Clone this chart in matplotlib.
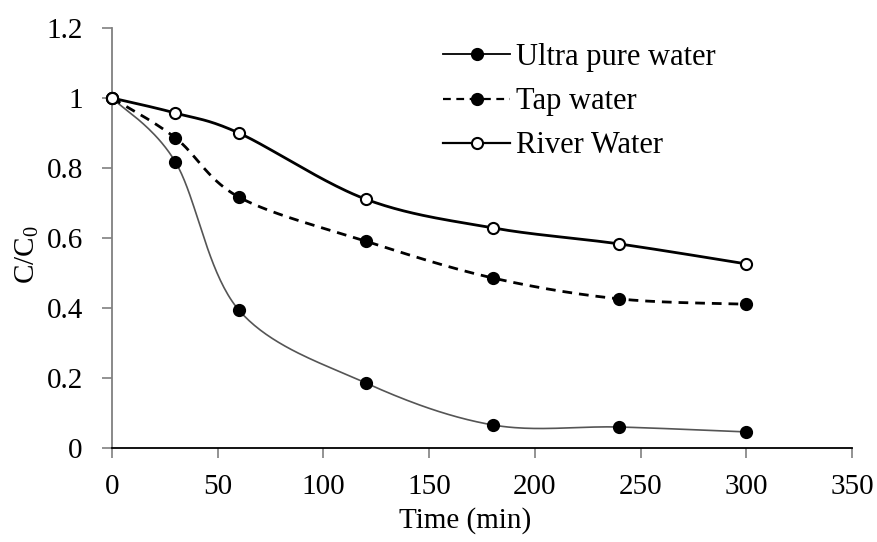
import numpy as np
import matplotlib
matplotlib.use("Agg")
import matplotlib.pyplot as plt
from matplotlib.lines import Line2D
from matplotlib.ticker import FuncFormatter, MultipleLocator

plt.rcParams['font.family'] = ['Liberation Serif', 'DejaVu Serif']
plt.rcParams['mathtext.fontset'] = 'custom'
plt.rcParams['mathtext.rm'] = 'Liberation Serif'
plt.rcParams['mathtext.it'] = 'Liberation Serif:italic'

# 降解数据
time = [0, 30, 60, 120, 180, 240, 300]
ultra = [1.0, 0.817, 0.394, 0.186, 0.066, 0.060, 0.046]
tap = [1.0, 0.886, 0.717, 0.591, 0.486, 0.426, 0.411]
river = [1.0, 0.957, 0.900, 0.711, 0.629, 0.583, 0.526]


def smooth(ax, x, y, n=40):
    # 类似Excel的平滑线：在屏幕坐标下做Catmull-Rom贝塞尔
    p = ax.transData.transform(np.column_stack([x, y]))
    p = np.vstack([p[0], p, p[-1]])
    out = []
    t = np.linspace(0, 1, n, endpoint=False)[:, None]
    for i in range(1, len(p) - 2):
        p0, p1, p2, p3 = p[i - 1], p[i], p[i + 1], p[i + 2]
        c1 = p1 + (p2 - p0) / 6.0
        c2 = p2 - (p3 - p1) / 6.0
        seg = ((1 - t)**3) * p1 + 3 * ((1 - t)**2) * t * c1 + 3 * (1 - t) * t**2 * c2 + t**3 * p2
        out.append(seg)
    out.append(p[-2][None, :])
    out = np.vstack(out)
    d = ax.transData.inverted().transform(out)
    return d[:, 0], d[:, 1]


fig = plt.figure(figsize=(8.78, 5.42), dpi=100, facecolor="w")
ax = fig.add_axes([0.1276, 0.1734, 0.8428, 0.7749])
ax.set_xlim(0, 350)
ax.set_ylim(0, 1.2)

styles = [
    (ultra, dict(color="#555555", lw=1.2, ls="-"), "black", "Ultra pure water"),
    (tap, dict(color="black", lw=2.0, ls=(0, (3.5, 2.5))), "black", "Tap water"),
    (river, dict(color="black", lw=2.0, ls="-"), "white", "River Water"),
]
handles = []
for y, st, fc, lab in styles:
    xs, ys = smooth(ax, time, y)
    ax.plot(xs, ys, zorder=2, **st)
    ax.plot(time, y, "o", ms=8, mfc=fc, mec="black", mew=1.5, ls="none", zorder=3, clip_on=False)
    handles.append(Line2D([], [], marker="o", ms=8, mfc=fc, mec="black", mew=1.5,
                          color="black", lw=1.6 if lab != "Ultra pure water" else 1.3,
                          ls=st["ls"]))

ax.legend(handles, [s[3] for s in styles], loc="upper left", bbox_to_anchor=(0.41, 1.03),
          frameon=False, fontsize=22, handlelength=2.2, handletextpad=0.2,
          labelspacing=0.5, numpoints=1)

for s in ["top", "right"]:
    ax.spines[s].set_visible(False)
ax.spines["left"].set_color("#808080")
ax.spines["left"].set_linewidth(1.3)
ax.spines["bottom"].set_color("black")
ax.spines["bottom"].set_linewidth(1.3)

ax.xaxis.set_major_locator(MultipleLocator(50))
ax.yaxis.set_major_locator(MultipleLocator(0.2))
ax.yaxis.set_major_formatter(FuncFormatter(lambda v, pos: "%g" % round(v, 2)))
ax.tick_params(axis="y", direction="out", length=7, width=1.2, color="#808080", labelsize=21, pad=14)
ax.tick_params(axis="x", direction="out", length=7, width=1.2, color="#808080", labelsize=21, pad=12)

ax.set_xlabel("Time (min)", fontsize=21)
ax.set_ylabel("C/C$_0$", fontsize=21)
ax.xaxis.set_label_coords(0.477, -0.14)
ax.yaxis.set_label_coords(-0.096, 0.46)

plt.savefig("out.png", dpi=100, facecolor="w")
